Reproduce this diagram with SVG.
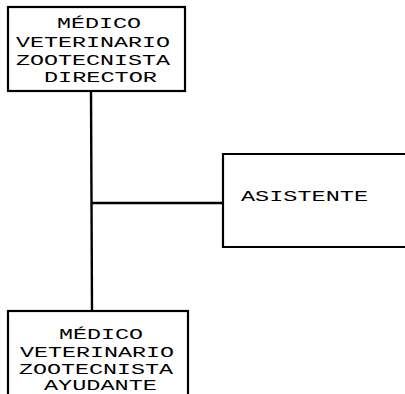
<svg xmlns="http://www.w3.org/2000/svg" width="405" height="394" viewBox="0 0 405 394">
<style>
.box{fill:#fff;stroke:#000;stroke-width:2.2}
.ln{stroke:#000;stroke-width:2.4;fill:none}
text{font-family:"Liberation Mono","Courier New",monospace;font-size:15px;fill:#000}
</style>
<rect width="405" height="394" fill="#fff"/>
<g id="connectors">
<line class="ln" x1="91" y1="91" x2="92" y2="311"/>
<line class="ln" x1="91" y1="203" x2="223" y2="203"/>
</g>
<g id="director">
<rect class="box" x="8" y="7" width="177" height="84"/>
<text x="57" y="28" textLength="84" lengthAdjust="spacingAndGlyphs">MÉDICO</text>
<text x="16" y="47" textLength="154" lengthAdjust="spacingAndGlyphs">VETERINARIO</text>
<text x="16" y="65" textLength="154" lengthAdjust="spacingAndGlyphs">ZOOTECNISTA</text>
<text x="44" y="82" textLength="113" lengthAdjust="spacingAndGlyphs">DIRECTOR</text>
</g>
<g id="asistente">
<path class="box" d="M410,154 H223 V247 H410"/>
<text x="241" y="201" textLength="127" lengthAdjust="spacingAndGlyphs">ASISTENTE</text>
</g>
<g id="ayudante">
<rect class="box" x="8" y="311" width="180" height="100"/>
<text x="59" y="339" textLength="84" lengthAdjust="spacingAndGlyphs">MÉDICO</text>
<text x="20" y="357" textLength="154" lengthAdjust="spacingAndGlyphs">VETERINARIO</text>
<text x="19" y="374" textLength="154" lengthAdjust="spacingAndGlyphs">ZOOTECNISTA</text>
<text x="44" y="390" textLength="113" lengthAdjust="spacingAndGlyphs">AYUDANTE</text>
</g>
</svg>
